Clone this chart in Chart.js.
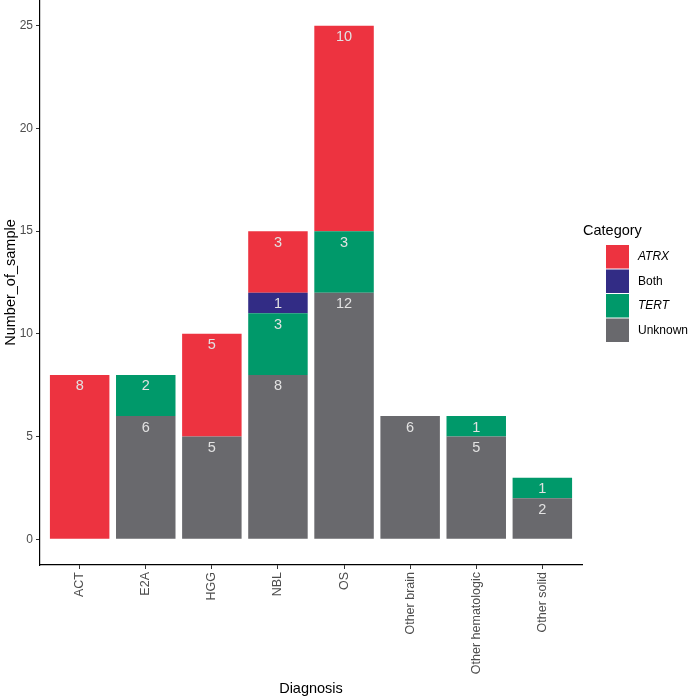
<!DOCTYPE html>
<html>
<head>
<meta charset="utf-8">
<script src="https://cdn.jsdelivr.net/npm/chart.js@4.4.1/dist/chart.umd.min.js"></script>
<style>
  html, body { margin: 0; padding: 0; background: #fff; }
  #wrap { width: 689px; height: 698px; }
</style>
</head>
<body>
<div id="wrap"><canvas id="diagChart" width="689" height="698"></canvas></div>
<script>
const categories = ['ACT', 'E2A', 'HGG', 'NBL', 'OS', 'Other brain', 'Other hematologic', 'Other solid'];
const unknownCounts = [0, 6, 5, 8, 12, 6, 5, 2];
const tertCounts    = [0, 2, 0, 3, 3, 0, 1, 1];
const bothCounts    = [0, 0, 0, 1, 0, 0, 0, 0];
const atrxCounts    = [8, 0, 5, 3, 10, 0, 0, 0];
const yTicks = [0, 5, 10, 15, 20, 25];

// legend order, top to bottom
const legendItems = [
  { label: 'ATRX', color: '#ed3340', italic: true },
  { label: 'Both', color: '#322c85', italic: false },
  { label: 'TERT', color: '#00996a', italic: true },
  { label: 'Unknown', color: '#69696d', italic: false }
];

const FONT = '"Liberation Sans", Arial, Helvetica, sans-serif';

function toPoints(values) {
  return values.map((v, i) => ({ x: i, y: v }));
}

// value labels at top of each segment
const segmentLabels = {
  id: 'segmentLabels',
  afterDatasetsDraw(chart) {
    const ctx = chart.ctx;
    ctx.save();
    ctx.font = '14.5px ' + FONT;
    ctx.fillStyle = '#e2e2e2';
    ctx.textAlign = 'center';
    ctx.textBaseline = 'middle';
    chart.data.datasets.forEach((ds, di) => {
      const meta = chart.getDatasetMeta(di);
      meta.data.forEach((bar, i) => {
        const v = ds.data[i].y;
        if (v > 0) ctx.fillText(String(v), bar.x, bar.y + 11.5);
      });
    });
    ctx.restore();
  }
};

// ggplot style legend on the right
const sideLegend = {
  id: 'sideLegend',
  afterDraw(chart) {
    const ctx = chart.ctx;
    ctx.save();
    ctx.fillStyle = '#000';
    ctx.font = '14.5px ' + FONT;
    ctx.textAlign = 'left';
    ctx.textBaseline = 'middle';
    ctx.fillText('Category', 583, 231);
    let y = 245;
    legendItems.forEach(item => {
      ctx.fillStyle = item.color;
      ctx.fillRect(606, y, 23, 23.5);
      ctx.fillStyle = '#000';
      ctx.font = (item.italic ? 'italic ' : '') + '12px ' + FONT;
      ctx.fillText(item.label, 638, y + 12);
      y += 24.5;
    });
    ctx.restore();
  }
};

function renderChart() {
  const ctx = document.getElementById('diagChart').getContext('2d');
  window.diagChartInstance = new Chart(ctx, {
    type: 'bar',
    data: {
      datasets: [
        { label: 'Unknown', data: toPoints(unknownCounts), backgroundColor: '#69696d' },
        { label: 'TERT', data: toPoints(tertCounts), backgroundColor: '#00996a' },
        { label: 'Both', data: toPoints(bothCounts), backgroundColor: '#322c85' },
        { label: 'ATRX', data: toPoints(atrxCounts), backgroundColor: '#ed3340' }
      ]
    },
    options: {
      responsive: false,
      animation: false,
      layout: { padding: { top: 0, right: 107, bottom: 0, left: 0 } },
      datasets: {
        bar: { categoryPercentage: 1, barPercentage: 0.9, borderWidth: 0 }
      },
      plugins: {
        legend: { display: false },
        tooltip: { enabled: false }
      },
      scales: {
        x: {
          type: 'linear',
          stacked: true,
          offset: false,
          min: -0.6,
          max: categories.length - 1 + 0.6,
          afterBuildTicks: scale => { scale.ticks = categories.map((c, i) => ({ value: i })); },
          afterFit: scale => { scale.height = 133; scale.paddingLeft = 0; scale.paddingRight = 0; },
          grid: { offset: false, drawOnChartArea: false, drawTicks: true, tickLength: 4, tickColor: '#333' },
          border: { display: true, color: '#000', width: 1.2 },
          ticks: {
            autoSkip: false,
            minRotation: 90,
            maxRotation: 90,
            padding: 3,
            color: '#4d4d4d',
            font: { family: FONT, size: 12.5 },
            callback: v => categories[v]
          },
          title: {
            display: true,
            text: 'Diagnosis',
            color: '#000',
            padding: 0,
            font: { family: FONT, size: 14.5 }
          }
        },
        y: {
          stacked: true,
          min: -1.25,
          max: 26.25,
          afterBuildTicks: scale => { scale.ticks = yTicks.map(v => ({ value: v })); },
          afterFit: scale => { scale.width = 40; scale.paddingTop = 0; scale.paddingBottom = 0; },
          grid: { drawOnChartArea: false, drawTicks: true, tickLength: 4, tickColor: '#333' },
          border: { display: true, color: '#000', width: 1.2 },
          ticks: {
            padding: 3,
            color: '#4d4d4d',
            font: { family: FONT, size: 12 }
          },
          title: {
            display: true,
            text: 'Number_of_sample',
            color: '#000',
            padding: { top: 2, bottom: 0 },
            font: { family: FONT, size: 14.5 }
          }
        }
      }
    },
    plugins: [segmentLabels, sideLegend]
  });
}

window.onload = renderChart;
</script>
</body>
</html>
